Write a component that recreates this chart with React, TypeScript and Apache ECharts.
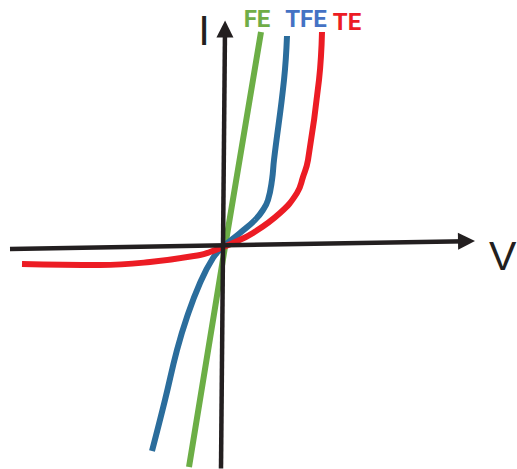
import React, { useEffect, useRef } from "react";
import * as echarts from "echarts";

// Curve samples in (V, I) units, origin at the axes' crossing point
const feCurve: [number, number][] = [
  [-33, -222],
  [2, -8],
  [39, 213],
];

const tfeCurve: [number, number][] = [
  [-70, -206],
  [-57, -155],
  [-45, -105],
  [-35, -72],
  [-22, -38],
  [-9, -13],
  [1, -2],
  [18, 12],
  [33, 25],
  [41, 35],
  [46, 45],
  [50, 65],
  [52, 85],
  [62, 165],
  [65, 209],
];

const teCurve: [number, number][] = [
  [-200, -19],
  [-122, -20],
  [-72, -17],
  [-22, -10],
  [-12, -7],
  [11, 2],
  [31, 12],
  [58, 32],
  [75, 52],
  [81, 68],
  [86, 85],
  [97, 165],
  [100, 213],
];

// Axis arrows: [start, end]
const iAxisLine: [number, number][] = [
  [-1, -223.5],
  [3, 216],
];
const vAxisLine: [number, number][] = [
  [-212, -4],
  [244.5, 3.8],
];

const curveNames = ["FE", "TFE", "TE"];
const axisNames = ["I", "V"];

const GREEN = "#6cae46";
const BLUE = "#2b6d9c";
const RED = "#ec1c24";
const INK = "#231f20";

export default function App() {
  const ref = useRef<HTMLDivElement>(null);

  useEffect(() => {
    if (!ref.current) return;
    const chart = echarts.init(ref.current, undefined, { renderer: "svg" });

    const curve = (name: string, data: [number, number][], color: string, smooth: number | boolean) => ({
      name,
      type: "line",
      data,
      smooth,
      showSymbol: false,
      symbol: "none",
      lineStyle: { color, width: 6, cap: "butt" },
      silent: true,
      z: 3,
    });

    chart.setOption({
      animation: false,
      backgroundColor: "#ffffff",
      grid: { left: 0, right: 0, top: 0, bottom: 0 },
      xAxis: { type: "value", min: -222, max: 295, show: false },
      yAxis: { type: "value", min: -224, max: 245, show: false },
      series: [
        {
          name: "axes",
          type: "line",
          data: [],
          silent: true,
          z: 2,
          markLine: {
            silent: true,
            animation: false,
            symbol: ["none", "triangle"],
            symbolSize: 17,
            label: { show: false },
            lineStyle: { color: INK, width: 4.5, type: "solid" },
            emphasis: { disabled: true },
            data: [
              [{ coord: iAxisLine[0] }, { coord: iAxisLine[1] }],
              [{ coord: vAxisLine[0] }, { coord: vAxisLine[1] }],
            ],
          },
        },
        curve(curveNames[0], feCurve, GREEN, false),
        curve(curveNames[1], tfeCurve, BLUE, 0.45),
        curve(curveNames[2], teCurve, RED, 0.45),
      ],
      graphic: [
        {
          type: "text",
          x: 204,
          y: 30,
          style: {
            text: axisNames[0],
            font: "42px 'Liberation Sans', sans-serif",
            fill: INK,
            align: "center",
            verticalAlign: "middle",
          },
        },
        {
          type: "text",
          x: 489,
          y: 256,
          style: {
            text: axisNames[1],
            font: "41px 'Liberation Sans', sans-serif",
            fill: INK,
            align: "left",
            verticalAlign: "middle",
          },
        },
        {
          type: "text",
          x: 257,
          y: 19,
          style: {
            text: curveNames[0],
            font: "bold 24px Roboto, sans-serif",
            fill: "#70ad47",
            align: "center",
            verticalAlign: "middle",
          },
        },
        {
          type: "text",
          x: 306,
          y: 19,
          style: {
            text: curveNames[1],
            font: "bold 24px Roboto, sans-serif",
            fill: "#4472c4",
            align: "center",
            verticalAlign: "middle",
          },
        },
        {
          type: "text",
          x: 347,
          y: 22,
          style: {
            text: curveNames[2],
            font: "bold 24px Roboto, sans-serif",
            fill: RED,
            align: "center",
            verticalAlign: "middle",
          },
        },
      ],
    });

    return () => chart.dispose();
  }, []);

  return (
    <div
      ref={ref}
      style={{ position: "absolute", left: 0, top: 0, width: 517, height: 469 }}
    />
  );
}
